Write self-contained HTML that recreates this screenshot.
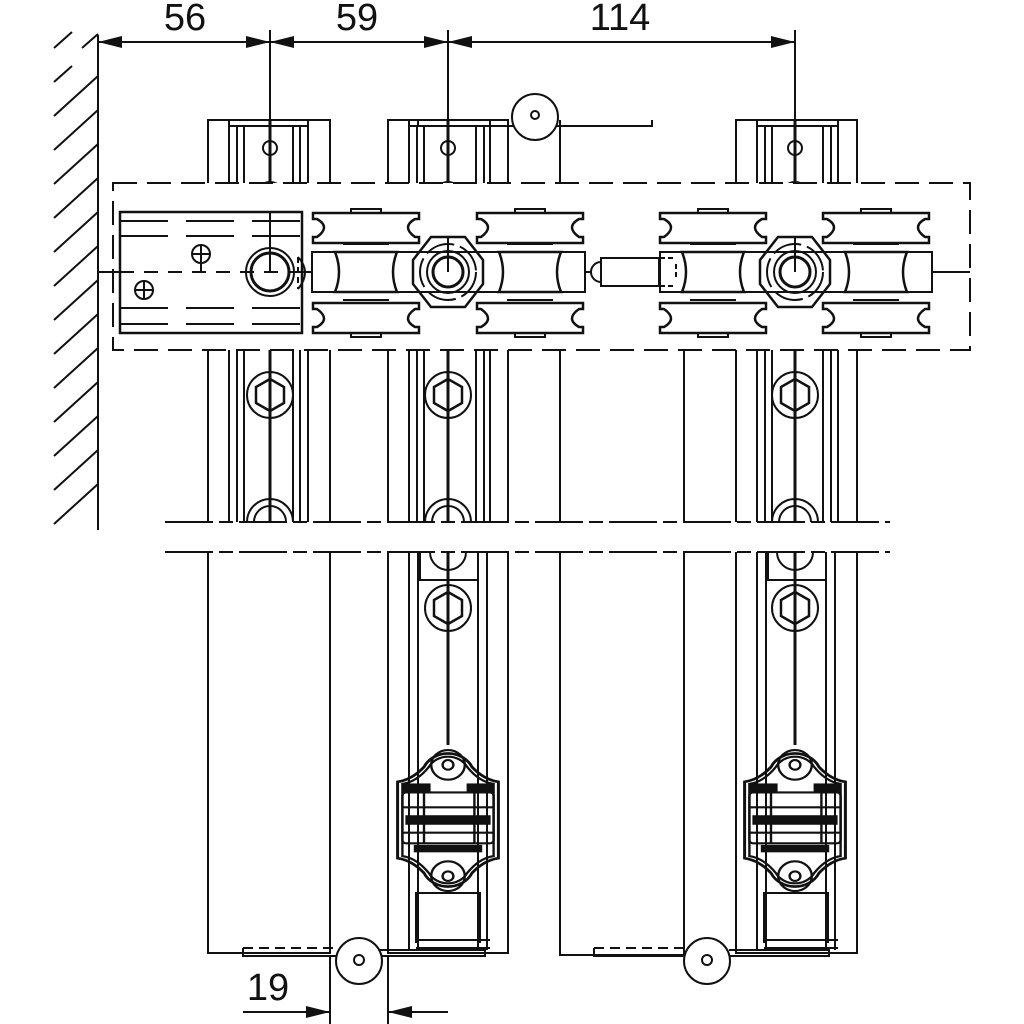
<!DOCTYPE html>
<html><head><meta charset="utf-8"><style>
html,body{margin:0;padding:0;background:#fff;width:1024px;height:1024px;overflow:hidden}
svg{display:block}
text{font-family:"Liberation Sans",sans-serif;fill:#111}
</style></head><body>
<svg width="1024" height="1024" viewBox="0 0 1024 1024" xmlns="http://www.w3.org/2000/svg" fill="none" stroke="#111" stroke-width="2">
<defs>
<g id="hex">
 <circle r="23"/><polygon points="0,-16 14,-8 14,8 0,16 -14,8 -14,-8" stroke-width="2.5"/>
</g>
<g id="wheel">
 <path d="M0,0 h106 v6 h-4 q-14,8 0,18 h4 v6 h-106 v-6 h4 q14,-10 0,-18 h-4 z" stroke-width="2.5"/>
 <rect x="38" y="-4" width="30" height="4"/>
</g>
<g id="wheelpair">
 <use href="#wheel" y="213"/>
 <g transform="translate(0,546) scale(1,-1)"><use href="#wheel" y="213"/></g>
 <path d="M22,252 h62 q-8,20 0,40 h-62 q8,-20 0,-40 z" stroke-width="2.5"/>
 <path d="M30,244 h46 M30,300 h46"/>
</g>
<g id="nut">
 <polygon points="-17,-35 17,-35 35,-12 35,12 17,35 -17,35 -35,12 -35,-12" stroke-width="2.5"/>
 <circle r="28" stroke-dasharray="30 6"/>
 <circle r="21"/><circle r="15" stroke-width="3"/>
</g>
<g id="bracketraw">
 <path d="M-20,-50 a22,22 0 0 1 40,0 q10,12 22,14 v72 q-12,2 -22,14 a22,22 0 0 1 -40,0 q-10,-12 -22,-14 v-72 q12,-2 22,-14 z" stroke-width="2.5"/>
 <path d="M-16,-50 a18,18 0 0 1 32,0 q10,14 22,16 v68 q-12,2 -22,16 a18,18 0 0 1 -32,0 q-10,-14 -22,-16 v-68 q12,-2 22,-16 z"/>
 <circle cy="-52" r="14"/><circle cy="-52" r="4.5"/>
 <circle cy="53" r="14"/><circle cy="53" r="4.5"/>
 <rect x="-38" y="-26" width="76" height="48" rx="3"/>
 <path d="M-38,-12 h76 M-38,12 h76 M-20,-26 v48 M22,-26 v48"/>
 <rect x="-37" y="-34" width="22" height="7" fill="#111" stroke-width="1"/>
 <rect x="16" y="-34" width="22" height="7" fill="#111" stroke-width="1"/>
 <rect x="-35" y="-4" width="70" height="8" fill="#111" stroke-width="1"/>
 <rect x="-28" y="24" width="56" height="6" fill="#111" stroke-width="1"/>
</g>
<g id="bracket"><g transform="scale(1.2,1.06)"><use href="#bracketraw"/></g></g>
</defs>

<!-- wall -->
<line x1="98" y1="35" x2="98" y2="530"/>
<path d="M54,48 l18,-16 M54,82 l18,-16 M54,116 l44,-40 M54,150 l44,-40 M54,184 l44,-40 M54,218 l44,-40 M54,252 l44,-40 M54,286 l44,-40 M54,320 l44,-40 M54,354 l44,-40 M54,388 l44,-40 M54,422 l44,-40 M54,456 l44,-40 M54,490 l44,-40 M54,524 l44,-40 M82,48 l16,-14"/>

<!-- top dimension -->
<line x1="98" y1="42" x2="795" y2="42"/>
<g fill="#111" stroke="none">
 <polygon points="98,42 122,36 122,48"/><polygon points="270,42 246,36 246,48"/>
 <polygon points="270,42 294,36 294,48"/><polygon points="448,42 424,36 424,48"/>
 <polygon points="448,42 472,36 472,48"/><polygon points="795,42 771,36 771,48"/>
</g>
<text x="185" y="30" font-size="38" text-anchor="middle" stroke="none">56</text>
<text x="357" y="30" font-size="38" text-anchor="middle" stroke="none">59</text>
<text x="620" y="30" font-size="38" text-anchor="middle" stroke="none">114</text>

<line x1="270" y1="30" x2="270" y2="272"/>
<line x1="448" y1="30" x2="448" y2="520"/>
<line x1="795" y1="30" x2="795" y2="520"/>

<!-- panel A -->
<path d="M208,522 V120 H330 V522 M229,120 V522 M237,126 V522 M244,126 V522 M293,126 V522 M300,126 V522 M308,120 V522 M229,126 H308"/>
<path d="M208,552 V953 H330 V552"/>
<!-- panel B -->
<path d="M388,522 V120 H508 V522 M409,120 V522 M417,126 V522 M424,126 V522 M476,126 V522 M484,126 V522 M490,120 V522 M409,126 H490"/>
<path d="M388,552 V953 H508 V552 M409,552 V950 M418,552 V950 M478,552 V950 M487,552 V950 M420,552 V580 H478 M416,948 h74 M416,940 h74 M416,943 v-50 h64 v50"/>
<!-- panel C -->
<path d="M560,120 V522 M560,552 V955 H684 V552 M684,350 V522"/>
<!-- panel D -->
<path d="M736,522 V120 H857 V522 M757,120 V522 M765,126 V522 M772,126 V522 M823,126 V522 M831,126 V522 M838,120 V522 M757,126 H838"/>
<path d="M736,552 V953 H857 V552 M757,552 V950 M766,552 V950 M826,552 V950 M835,552 V950 M768,552 V580 H826 M764,948 h74 M764,940 h74 M764,943 v-50 h64 v50"/>

<path d="M270,350 V522 M448,350 V522 M448,552 V745 M795,350 V522 M795,552 V745" stroke-width="3"/>
<path d="M270,120 V183 M448,120 V183 M795,120 V183" stroke-width="3"/>
<g><circle cx="270" cy="148" r="7"/><circle cx="448" cy="148" r="7"/><circle cx="795" cy="148" r="7"/>
<path d="M256,196 a14,14 0 0 1 28,0 M262,196 a8,8 0 0 1 16,0 M434,196 a14,14 0 0 1 28,0 M440,196 a8,8 0 0 1 16,0 M781,196 a14,14 0 0 1 28,0 M787,196 a8,8 0 0 1 16,0"/></g>
<use href="#hex" x="270" y="395"/><use href="#hex" x="448" y="395"/><use href="#hex" x="795" y="395"/>
<use href="#hex" x="448" y="608"/><use href="#hex" x="795" y="608"/>
<path d="M247,522 a23,23 0 0 1 46,0 M254,522 a16,16 0 0 1 32,0 M425,522 a23,23 0 0 1 46,0 M432,522 a16,16 0 0 1 32,0 M772,522 a23,23 0 0 1 46,0 M779,522 a16,16 0 0 1 32,0"/>
<path d="M430,552 a18,18 0 0 0 36,0 M777,552 a18,18 0 0 0 36,0"/>

<line x1="165" y1="522" x2="890" y2="522" stroke-dasharray="48 6 14 6"/>
<line x1="165" y1="552" x2="890" y2="552" stroke-dasharray="48 6 14 6"/>

<rect x="113" y="183" width="857" height="167" fill="#fff" stroke-dasharray="24 10"/>
<line x1="98" y1="272" x2="970" y2="272"/>
<rect x="120" y="212" width="182" height="121" fill="#fff" stroke-width="2.5"/>
<path d="M120,221 H302 M120,236 H302 M120,308 H302 M120,324 H302" stroke-dasharray="48 18"/>
<line x1="120" y1="272" x2="302" y2="272" stroke-dasharray="14 10"/>
<circle cx="270" cy="272" r="24"/><circle cx="270" cy="272" r="19" stroke-width="3"/>
<line x1="270" y1="212" x2="270" y2="272"/>
<circle cx="201" cy="254" r="9"/><path d="M192,254 h18 M201,245 v27"/>
<circle cx="144" cy="290" r="9"/><path d="M135,290 h18 M144,281 v18"/>
<path d="M298,257 q14,15 0,32" />
<line x1="298" y1="257" x2="298" y2="289" stroke-dasharray="6 4"/>

<rect x="312" y="252" width="273" height="40" fill="#fff"/>
<rect x="660" y="252" width="272" height="40" fill="#fff"/>
<use href="#wheelpair" x="313"/><use href="#wheelpair" x="477"/>
<use href="#wheelpair" x="660"/><use href="#wheelpair" x="823"/>
<use href="#nut" x="448" y="272"/><use href="#nut" x="795" y="272"/>
<line x1="448" y1="237" x2="448" y2="272"/><line x1="795" y1="237" x2="795" y2="272"/>
<path d="M601,258 h58 v28 h-58 z M601,262 a10,10 0 0 0 0,20" fill="#fff"/>
<path d="M660,258 h14 M660,286 h14 M676,264 v16" stroke-dasharray="5 3"/>

<path d="M418,120 V126 H515 M556,126 H652 V120"/>
<circle cx="535" cy="117" r="23" fill="#fff"/><circle cx="535" cy="115" r="4"/>
<use href="#bracket" x="448" y="820"/><use href="#bracket" x="795" y="820"/>

<path d="M243,948 v8 h95 M380,950 h105 v6 h-105" />
<path d="M243,948 h95" stroke-dasharray="10 6"/>
<circle cx="359" cy="961" r="23" fill="#fff"/><circle cx="359" cy="960" r="5"/>
<path d="M594,948 v8 h90 M729,950 h100 v6 h-100"/>
<path d="M594,948 h92" stroke-dasharray="10 6"/>
<circle cx="707" cy="961" r="23" fill="#fff"/><circle cx="707" cy="960" r="5"/>

<path d="M330,955 V1024 M388,955 V1024"/>
<line x1="243" y1="1012" x2="330" y2="1012"/><line x1="388" y1="1012" x2="448" y2="1012"/>
<g fill="#111" stroke="none"><polygon points="330,1012 306,1006 306,1018"/><polygon points="388,1012 412,1006 412,1018"/></g>
<text x="268" y="1000" font-size="38" text-anchor="middle" stroke="none">19</text>
</svg>
</body></html>
